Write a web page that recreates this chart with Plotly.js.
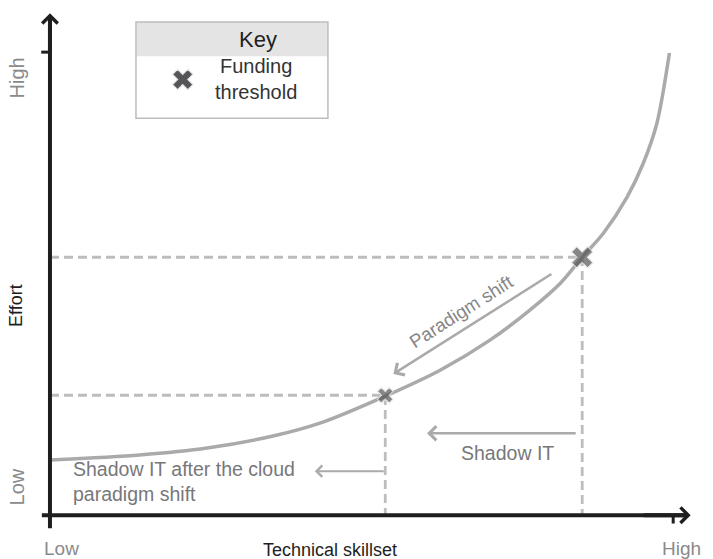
<!DOCTYPE html>
<html>
<head>
<meta charset="utf-8">
<script src="https://cdn.plot.ly/plotly-3.0.1.min.js"></script>
<style>html,body{margin:0;padding:0;background:#fff;}#chart{width:713px;height:559px;}</style>
</head>
<body>
<div id="chart"></div>
<script>
// Effort curve (x: technical skillset 0..1, y: effort 0..1)
const curveX = [0, 0.144, 0.252, 0.358, 0.438, 0.538, 0.626, 0.706, 0.770, 0.819, 0.854, 0.888, 0.926, 0.952, 0.974, 0.994];
const curveY = [0.119, 0.130, 0.145, 0.171, 0.201, 0.257, 0.313, 0.378, 0.443, 0.501, 0.557, 0.609, 0.687, 0.760, 0.847, 0.998];
// Funding thresholds
const thresholdX = [0.538, 0.854];
const thresholdY = [0.259, 0.557];
const thresholdSize = [14, 19];
// Axis tick labels
const tickLabels = ["Low", "High"];
const xTitle = "Technical skillset";
const yTitle = "Effort";
const keyTitle = "Key";
const keyLabel = "Funding<br>threshold";
// Annotation arrows [tailX, tailY, headX, headY]
const paradigmArrow = [0.807, 0.523, 0.551, 0.305];
const shadowArrow = [0.846, 0.177, 0.605, 0.177];
const cloudArrow = [0.538, 0.095, 0.425, 0.095];

const FONT = "Liberation Sans, Arial, sans-serif";
const AX = "#1e1e1e";
const GREY = "#aaaaab";
const DASH = "#bdbdc0";

const traces = [];
// dashed guide lines
for (let i = 0; i < thresholdX.length; i++) {
  traces.push({x:[0, thresholdX[i], thresholdX[i]], y:[thresholdY[i], thresholdY[i], 0], mode:'lines',
    line:{color:DASH, width:2.8, dash:'9px,5px'}, hoverinfo:'skip', showlegend:false});
}
traces.push({x:curveX, y:curveY, mode:'lines', line:{color:GREY, width:3.5, shape:'spline', smoothing:0.8},
  hoverinfo:'skip', showlegend:false});
traces.push({x:thresholdX, y:thresholdY, mode:'markers', cliponaxis:false,
  marker:{symbol:'x', size:thresholdSize, color:'#555557', line:{color:'#e4e4e4', width:1.2}},
  hoverinfo:'skip', showlegend:false});
// key marker
traces.push({x:[0.213], y:[0.941], mode:'markers', cliponaxis:false,
  marker:{symbol:'x', size:18, color:'#555557', line:{color:'#e4e4e4', width:1.2}},
  hoverinfo:'skip', showlegend:false});

const shapes = [
  // key box
  {type:'rect', xref:'x', yref:'y', x0:0.138, x1:0.446, y0:0.991, y1:1.065, fillcolor:'#e4e4e5', line:{width:0}},
  {type:'rect', xref:'x', yref:'y', x0:0.138, x1:0.446, y0:0.857, y1:1.065, fillcolor:'rgba(0,0,0,0)', line:{color:'#bdbdbd', width:1.5}},
  // axes
  {type:'line', xref:'x', yref:'y', x0:-0.013, x1:1.022, y0:0, y1:0, line:{color:AX, width:4}},
  {type:'line', xref:'x', yref:'y', x0:0, x1:0, y0:-0.028, y1:1.078, line:{color:AX, width:4}},
  // ticks
  {type:'line', xref:'x', yref:'y', x0:-0.014, x1:0, y0:1, y1:1, line:{color:AX, width:3}},
  {type:'line', xref:'x', yref:'y', x0:1, x1:1, y0:0, y1:-0.018, line:{color:AX, width:3}}
];

function arrow(a, w, size) {
  return {x:a[2], y:a[3], ax:a[0], ay:a[1], xref:'x', yref:'y', axref:'x', ayref:'y', text:'',
    showarrow:true, arrowhead:4, arrowsize:size, arrowwidth:w, arrowcolor:GREY, standoff:0, startstandoff:0};
}
const annotations = [
  arrow(paradigmArrow, 2.5, 1.1),
  arrow(shadowArrow, 2.5, 1.1),
  arrow(cloudArrow, 2, 1.1),
  {x:0, y:1.084, ax:0, ay:1.0, xref:'x', yref:'y', axref:'x', ayref:'y', text:'', showarrow:true,
    arrowhead:4, arrowsize:0.75, arrowwidth:4, arrowcolor:AX, standoff:0},
  {x:1.028, y:0, ax:0.95, ay:0, xref:'x', yref:'y', axref:'x', ayref:'y', text:'', showarrow:true,
    arrowhead:4, arrowsize:0.75, arrowwidth:4, arrowcolor:AX, standoff:0},
  {x:0.66, y:0.44, xref:'x', yref:'y', text:'Paradigm shift', showarrow:false, textangle:-32.5,
    font:{family:FONT, size:18.5, color:'#858587'}},
  {x:0.734, y:0.134, xref:'x', yref:'y', text:'Shadow IT', showarrow:false,
    font:{family:FONT, size:19.5, color:'#77777a'}},
  {x:0.034, y:0.072, xref:'x', yref:'y', text:'Shadow IT after the cloud<br>paradigm shift', showarrow:false,
    xanchor:'left', align:'left', font:{family:FONT, size:19.5, color:'#77777a'}},
  {x:0.333, y:1.027, xref:'x', yref:'y', text:keyTitle, showarrow:false, font:{family:FONT, size:22, color:'#222'}},
  {x:0.331, y:0.942, xref:'x', yref:'y', text:keyLabel, showarrow:false, font:{family:FONT, size:20, color:'#333'}},
  // tick labels
  {xref:'paper', yref:'paper', x:-0.055, y:(530-55)/520, text:tickLabels[1], textangle:-90, showarrow:false,
    font:{family:FONT, size:20, color:'#8a8a8c'}},
  {xref:'paper', yref:'paper', x:-0.055, y:(530-507)/520, text:tickLabels[0], textangle:-90, showarrow:false,
    font:{family:FONT, size:20, color:'#8a8a8c'}},
  {xref:'x', yref:'paper', x:0.018, y:(530-548)/520, yanchor:'middle', text:tickLabels[0], showarrow:false,
    font:{family:FONT, size:19, color:'#8a8a8c'}},
  {xref:'x', yref:'paper', x:1.014, y:(530-548)/520, yanchor:'middle', text:tickLabels[1], showarrow:false,
    font:{family:FONT, size:19, color:'#8a8a8c'}},
  // axis titles
  {xref:'paper', yref:'paper', x:-0.055, y:(530-305)/520, text:yTitle, textangle:-90, showarrow:false,
    font:{family:FONT, size:18, color:'#1e1e1e'}},
  {xref:'x', yref:'paper', x:0.449, y:(530-550)/520, yanchor:'middle', text:xTitle, showarrow:false,
    font:{family:FONT, size:18, color:'#1e1e1e'}}
];

const layout = {
  width:713, height:559,
  margin:{l:40, r:18, t:10, b:29, pad:0},
  paper_bgcolor:'#fff', plot_bgcolor:'#fff',
  xaxis:{range:[-0.016, 1.035], visible:false, fixedrange:true},
  yaxis:{range:[-0.032, 1.091], visible:false, fixedrange:true},
  shapes:shapes, annotations:annotations, showlegend:false,
  font:{family:FONT}
};
Plotly.newPlot('chart', traces, layout, {displayModeBar:false, staticPlot:true});
</script>
</body>
</html>
